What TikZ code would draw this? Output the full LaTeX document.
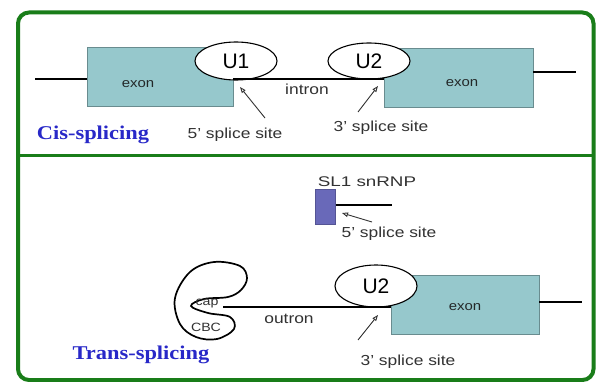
\documentclass[tikz,border=0pt]{standalone}
\usepackage{fontspec}
\setmainfont{Liberation Sans}
\newfontfamily\serifb{Liberation Serif}
\usetikzlibrary{arrows.meta,shapes.geometric}
\definecolor{framec}{RGB}{25,125,25}
\definecolor{exonc}{RGB}{150,200,204}
\definecolor{slc}{RGB}{105,105,185}
\definecolor{bluet}{RGB}{40,40,200}
\definecolor{txt}{RGB}{50,50,50}
\begin{document}
\begin{tikzpicture}[x=1pt,y=-1pt,
  exonbox/.style={draw=exonc!70!black, fill=exonc, line width=0.6pt, inner sep=0pt},
  exonlab/.style={font=\fontsize{13}{14}\selectfont, text=txt!80!exonc!50!black, xscale=1.15, inner sep=0pt},
  lab/.style={font=\fontsize{14.5}{16}\selectfont, text=txt, xscale=1.2, inner sep=0pt},
  ulab/.style={ellipse, draw=black, line width=1.1pt, fill=white, inner sep=0pt, font=\fontsize{21}{23}\selectfont},
  strand/.style={black, line width=1.5pt},
  sitearrow/.style={draw=txt, line width=0.9pt, -{Triangle[open,length=6pt,width=4.5pt]}},
  title/.style={font=\serifb\bfseries\fontsize{19.5}{21}\selectfont, text=bluet, xscale=1.15, inner sep=0pt},
  small/.style={font=\fontsize{12}{13}\selectfont, text=txt, xscale=1.18, inner sep=0pt}
]
\useasboundingbox (0,0) rectangle (596,382);
\fill[white] (0,0) rectangle (596,382);
% frame
\draw[framec, line width=4pt, rounded corners=11pt] (18,12.5) rectangle (593.5,380);
\draw[framec, line width=3pt] (18,155.5) -- (593.5,155.5);

% ---------- Cis-splicing ----------
\coordinate (c1) at (35,79);
\coordinate (c2) at (233,79);
\coordinate (c3) at (384,79);
\coordinate (c4) at (533,72);
\coordinate (c5) at (576,72);
\node[exonbox, minimum width=146pt, minimum height=59pt] (exL) at (160,76.5) {};
\node[exonbox, minimum width=149pt, minimum height=59pt] (exR) at (458.5,77.5) {};
\draw[strand] (c1) -- (c1 -| exL.west);
\draw[strand] (c4) -- (c5);
\node[ulab, minimum width=82pt, minimum height=38pt] (u1) at (236,61) {U1};
\node[ulab, minimum width=82pt, minimum height=36pt] (u2) at (369,61) {U2};
\draw[strand] (c2) -- (c3);
\node[exonlab] (exLl) at (138,84) {exon};
\node[exonlab] (exRl) at (462,83) {exon};
\node[lab] (intr) at (307,89) {intron};
\node[lab] (s5a) at (235,135) {5' splice site};
\node[lab] (s3a) at (381,128) {3' splice site};
\coordinate (p5a) at (240,87);
\coordinate (p3a) at (378,86);
\draw[sitearrow] (265,118) -- (p5a);
\draw[sitearrow] (358,112) -- (p3a);
\node[title] (cis) at (93,135) {Cis-splicing};

% ---------- Trans-splicing ----------
\node[lab, font=\fontsize{14}{15}\selectfont, xscale=1.12] (slt) at (367,182) {SL1 snRNP};
\node[draw=slc!80!black, fill=slc, line width=0.5pt, minimum width=20pt, minimum height=35pt, inner sep=0pt] (sl) at (325.5,207) {};
\coordinate (sle) at (392,205);
\draw[strand] (sl.east |- sle) -- (sle);
\coordinate (p5b) at (342,213);
\draw[sitearrow] (372,222) -- (p5b);
\node[lab] (s5b) at (389,234) {5' splice site};

% cap / CBC loop
\draw[black, line width=1.7pt] plot[smooth cycle, tension=0.6] coordinates {
  (191,306) (204,299) (228,297) (241,290) (247,278) (240,266) (214,262)
  (190,272) (175,298) (180,324) (196,337) (217,339) (234,329) (230,317) (208,313)};
\node[small] (cap) at (207,304) {cap};
\node[small] (cbc) at (206,327) {CBC};
\coordinate (o1) at (223,307);
\coordinate (o2) at (391,307);
\node[exonbox, minimum width=148pt, minimum height=59pt] (exB) at (465,304.5) {};
\node[ulab, minimum width=82pt, minimum height=42pt] (u2b) at (376,286) {U2};
\draw[strand] (o1) -- (o2);
\coordinate (c6) at (539,302);
\coordinate (c7) at (582,302);
\draw[strand] (c6) -- (c7);
\node[exonlab] (exBl) at (465,307) {exon};
\node[lab] (outr) at (289,319) {outron};
\coordinate (p3b) at (378,315);
\draw[sitearrow] (358,340) -- (p3b);
\node[lab] (s3b) at (408,362) {3' splice site};
\node[title] (trans) at (141,355) {Trans-splicing};
\end{tikzpicture}
\end{document}
